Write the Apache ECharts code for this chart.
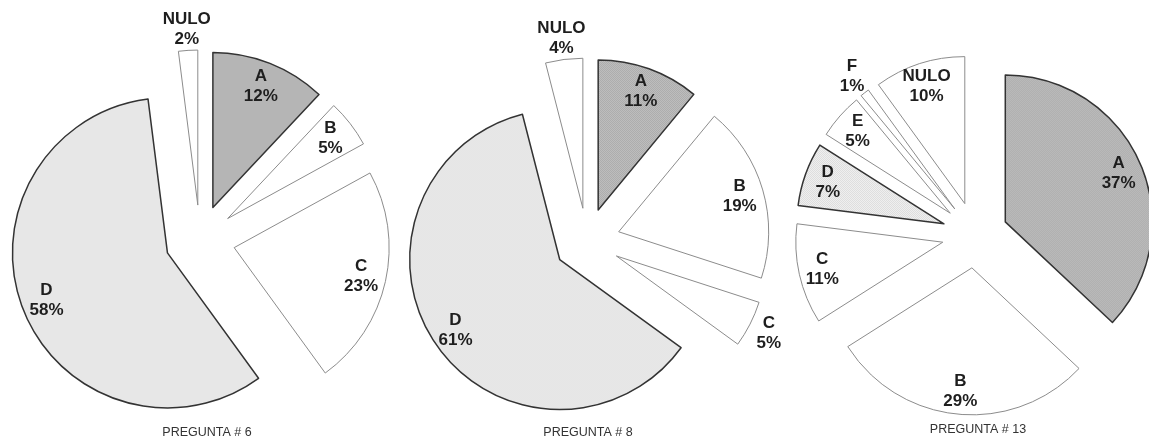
<!DOCTYPE html>
<html>
<head>
<meta charset="utf-8">
<script src="https://cdn.jsdelivr.net/npm/echarts@6/dist/echarts.min.js"></script>
<style>
  html, body { margin: 0; padding: 0; background: #fff; }
  #chart { width: 1149px; height: 440px; }
</style>
</head>
<body>
<div id="chart"></div>
<script>
// Answers per question (percent of responses)
const Q6_NAMES = ['A', 'B', 'C', 'D', 'NULO'];
const Q6_VALUES = [12, 5, 23, 58, 2];

const Q8_NAMES = ['A', 'B', 'C', 'D', 'NULO'];
const Q8_VALUES = [11, 19, 5, 61, 4];

const Q13_NAMES = ['A', 'B', 'C', 'D', 'E', 'F', 'NULO'];
const Q13_VALUES = [37, 29, 11, 7, 5, 1, 10];

const TITLES = ['PREGUNTA # 6', 'PREGUNTA # 8', 'PREGUNTA # 13'];

// Small dotted fill, like a printed halftone
function dotPattern(base, dot) {
  const c = document.createElement('canvas');
  c.width = 2; c.height = 2;
  const g = c.getContext('2d');
  g.fillStyle = base; g.fillRect(0, 0, 2, 2);
  g.fillStyle = dot; g.fillRect(0, 0, 1, 1); g.fillRect(1, 1, 1, 1);
  return { image: c, repeat: 'repeat' };
}

const DARK_FILL = dotPattern('#c2c2c2', '#a9a9a9');
const LIGHT_FILL = dotPattern('#f2f2f2', '#dcdcdc');

function sliceStyle(name) {
  if (name === 'A') return { color: DARK_FILL, borderColor: '#333', borderWidth: 1.5 };
  if (name === 'D') return { color: LIGHT_FILL, borderColor: '#333', borderWidth: 1.5 };
  return { color: '#fff', borderColor: '#8c8c8c', borderWidth: 1 };
}

const LABEL_FONT = {
  fontFamily: 'Liberation Sans, Arial, sans-serif',
  fontWeight: 'bold',
  fontSize: 17,
  lineHeight: 20,
  color: '#1e1e1e',
  textBorderWidth: 0
};

function buildPie(names, values, cfg) {
  const base = {
    type: 'pie',
    center: cfg.center,
    startAngle: 90,
    clockwise: true,
    selectedMode: 'multiple',
    selectedOffset: cfg.offset,
    animation: false,
    silent: true,
    avoidLabelOverlap: false,
    labelLayout: { hideOverlap: false },
    emphasis: { disabled: true, scale: false }
  };
  const slices = Object.assign({}, base, {
    radius: [0, cfg.r],
    z: 2,
    label: { show: false },
    labelLine: { show: false },
    data: names.map((n, i) => ({
      name: n,
      value: values[i],
      selected: true,
      itemStyle: sliceStyle(n),
      select: { itemStyle: sliceStyle(n) }
    }))
  });
  // Transparent rings that only carry the category labels
  const ring = (r0, r1, show) => Object.assign({}, base, {
    radius: [r0, r1],
    z: 3,
    itemStyle: { color: 'rgba(0,0,0,0)', borderWidth: 0 },
    select: { itemStyle: { color: 'rgba(0,0,0,0)', borderWidth: 0 } },
    labelLine: { show: false },
    label: Object.assign({ show: true, position: 'inside', formatter: '{b}\n{c}%' }, LABEL_FONT),
    data: names.map((n, i) => ({
      name: n,
      value: values[i],
      selected: true,
      label: { show: show(n) }
    }))
  });
  const outside = cfg.outside;
  return [
    slices,
    ring(cfg.r * 0.64, cfg.r, n => outside.indexOf(n) < 0),
    ring(cfg.r, cfg.r * 1.24, n => outside.indexOf(n) >= 0)
  ];
}

const chart = echarts.init(document.getElementById('chart'), null, { renderer: 'canvas' });

const titleStyle = {
  fontFamily: 'Liberation Sans, Arial, sans-serif',
  fontWeight: 'normal',
  fontSize: 12.5,
  color: '#333'
};

chart.setOption({
  backgroundColor: '#fff',
  animation: false,
  title: [
    { text: TITLES[0], left: 207, top: 426, textAlign: 'center', textStyle: titleStyle, padding: 0 },
    { text: TITLES[1], left: 588, top: 426, textAlign: 'center', textStyle: titleStyle, padding: 0 },
    { text: TITLES[2], left: 978, top: 423, textAlign: 'center', textStyle: titleStyle, padding: 0 }
  ],
  series: [].concat(
    buildPie(Q6_NAMES, Q6_VALUES, { center: [200, 240], r: 155, offset: 35, outside: ['NULO'] }),
    buildPie(Q8_NAMES, Q8_VALUES, { center: [587, 241], r: 150, offset: 33, outside: ['NULO', 'C'] }),
    buildPie(Q13_NAMES, Q13_VALUES, { center: [975, 235], r: 147, offset: 33, outside: ['F'] })
  )
});
</script>
</body>
</html>
